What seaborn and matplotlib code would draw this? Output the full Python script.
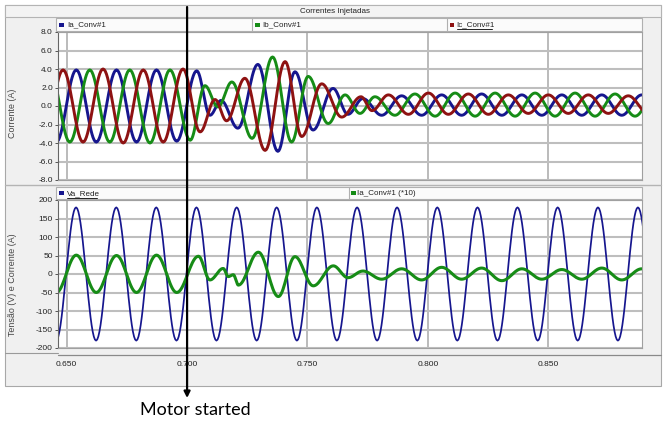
import numpy as np
import pandas as pd
import matplotlib
matplotlib.use("Agg")
import matplotlib.pyplot as plt
import seaborn as sns
from matplotlib.patches import Rectangle

sns.set_style("white")
UI = ['Liberation Sans Narrow', 'Liberation Sans', 'DejaVu Sans']
plt.rcParams['font.family'] = UI

# ---------------- data (turning points) ----------------
title_top = "Correntes Injetadas"
ylabel_top = "Corrente (A)"
ylabel_bot = "Tensão (V) e Corrente (A)"
legend_top = ["Ia_Conv#1", "Ib_Conv#1", "Ic_Conv#1"]
legend_bot = ["Va_Rede", "Ia_Conv#1 (*10)"]
x_ticks = [0.650, 0.700, 0.750, 0.800, 0.850]
x_ticklabels = ["0.650", "0.700", "0.750", "0.800", "0.850"]
y_ticks_top = [-8, -6, -4, -2, 0, 2, 4, 6, 8]
y_ticks_bot = [-200, -150, -100, -50, 0, 50, 100, 150, 200]
event_time = 0.700
event_label = "Motor started"

ia_t = [0.6457, 0.6540, 0.6623, 0.6707, 0.6790, 0.6873, 0.6957, 0.7040,
        0.7095, 0.7141, 0.7211, 0.7294, 0.7377, 0.7448, 0.7523, 0.7606,
        0.7668, 0.7730, 0.7808, 0.7891, 0.7974, 0.8057, 0.8140, 0.8223,
        0.8307, 0.8390, 0.8473, 0.8556, 0.8639, 0.8722, 0.8805, 0.8888, 0.8971]
ia_v = [-3.9, 3.9, -3.9, 3.9, -3.9, 3.9, -3.8, 3.8,
        -1.0, 0.6, -2.4, 4.5, -4.9, 3.7, -2.6, 1.9,
        -0.9, 0.8, -1.0, 1.1, -1.0, 1.2, -1.0, 1.3,
        -1.0, 1.2, -1.0, 1.2, -1.0, 1.2, -1.0, 1.2, -1.0]

ib_t = [0.6430, 0.6513, 0.6596, 0.6679, 0.6762, 0.6846, 0.6929, 0.7013,
        0.7074, 0.7128, 0.7186, 0.7270, 0.7355, 0.7434, 0.7503, 0.7586,
        0.7656, 0.7718, 0.7780, 0.7863, 0.7946, 0.8030, 0.8113, 0.8196,
        0.8279, 0.8362, 0.8445, 0.8528, 0.8611, 0.8694, 0.8777, 0.8860, 0.8943]
ib_v = [3.9, -3.9, 3.9, -3.9, 3.9, -4.0, 3.9, -3.7,
        2.2, -0.1, 2.6, -3.5, 5.3, -3.9, 3.2, -1.9,
        1.2, -0.8, 1.0, -1.0, 1.3, -1.1, 1.4, -1.1,
        1.4, -1.1, 1.4, -1.1, 1.4, -1.1, 1.3, -1.1, 1.3]

ic_t = [0.6402, 0.6485, 0.6568, 0.6651, 0.6735, 0.6818, 0.6901, 0.6983,
        0.7054, 0.7116, 0.7164, 0.7240, 0.7324, 0.7407, 0.7476, 0.7559,
        0.7642, 0.7722, 0.7768, 0.7836, 0.7919, 0.8002, 0.8085, 0.8168,
        0.8251, 0.8334, 0.8417, 0.8500, 0.8583, 0.8666, 0.8749, 0.8832, 0.8915]
ic_v = [-3.9, 3.9, -3.9, 4.0, -4.0, 3.9, -3.9, 4.0,
        -2.8, 0.7, -1.6, 3.0, -4.8, 4.8, -3.3, 2.4,
        -1.2, 1.0, -0.5, 1.2, -0.9, 1.4, -0.9, 1.3,
        -0.9, 1.2, -0.8, 1.2, -0.8, 1.2, -0.8, 1.1, -0.8]

va_t = [0.6456, 0.6539, 0.6622, 0.6706, 0.6789, 0.6872, 0.6956, 0.7039,
        0.7122, 0.7206, 0.7289, 0.7372, 0.7456, 0.7539, 0.7622, 0.7706,
        0.7789, 0.7872, 0.7956, 0.8039, 0.8122, 0.8206, 0.8289, 0.8372,
        0.8456, 0.8539, 0.8622, 0.8706, 0.8789, 0.8872, 0.8956]
va_v = [-180, 180, -180, 180, -180, 180, -180, 180,
        -180, 180, -180, 180, -180, 180, -180, 180,
        -180, 180, -180, 180, -180, 180, -180, 180,
        -180, 180, -180, 180, -180, 180, -180]

ia10_t = [0.6457, 0.6540, 0.6623, 0.6707, 0.6790, 0.6873, 0.6957, 0.7047,
          0.7095, 0.7150, 0.7171, 0.7192, 0.7213, 0.7296, 0.7379, 0.7448, 0.7524, 0.7607,
          0.7668, 0.7730, 0.7808, 0.7891, 0.7974, 0.8057, 0.8140, 0.8223,
          0.8307, 0.8390, 0.8473, 0.8556, 0.8639, 0.8722, 0.8805, 0.8888, 0.8971]
ia10_v = [-50, 51, -50, 50, -50, 51, -50, 48,
          -16, 15, -7, -2, -30, 59, -61, 47, -32, 22,
          -10, 8, -14, 14, -16, 18, -14, 16,
          -18, 14, -14, 12, -14, 16, -16, 14, -12]

BLUE, GREEN, RED = '#16168e', '#168c16', '#8e1212'

# ---------------- helpers ----------------
W, H = 664, 421
FS = 5.8


def rect(x0, y0, x1, y1):
    return [x0 / W, 1 - y1 / H, (x1 - x0) / W, (y1 - y0) / H]


def trace(times, vals, name, n=18):
    """Half-cosine segments between consecutive read turning points."""
    t = np.asarray(times, float)
    v = np.asarray(vals, float)
    s = np.linspace(0, 1, n, endpoint=False)
    w = (1 - np.cos(np.pi * s)) / 2
    tt = (t[:-1, None] + (t[1:] - t[:-1])[:, None] * s).ravel()
    vv = (v[:-1, None] + (v[1:] - v[:-1])[:, None] * w).ravel()
    tt = np.append(tt, t[-1]); vv = np.append(vv, v[-1])
    return pd.DataFrame({"t": tt, "v": vv, "s": name})


fig = plt.figure(figsize=(W / 100, H / 100), dpi=100)
fig.patch.set_facecolor('white')

# background / frame axes
bg = fig.add_axes([0, 0, 1, 1], zorder=-10)
bg.set_xlim(0, W); bg.set_ylim(H, 0); bg.axis('off')
bg.add_patch(Rectangle((5, 5), 656, 381, fc='#f0f0f0', ec='#a8a8a8', lw=0.8))
bg.add_patch(Rectangle((5, 5), 656, 12, fc='#f3f3f3', ec='#b4b4b4', lw=0.8))
bg.text(335, 11.2, title_top, ha='center', va='center', fontsize=FS, color='#222222')
# top legend bar
bg.add_patch(Rectangle((56, 18), 586, 13, fc='#fbfbfb', ec='#b0b0b0', lw=0.8))
for xs in (251.7, 446.7):
    bg.plot([xs, xs], [18, 31], color='#b0b0b0', lw=0.8)
for (mx, tx, lab, col) in [(59, 67.5, legend_top[0], BLUE), (255, 262.5, legend_top[1], GREEN),
                           (449.5, 456.5, legend_top[2], RED)]:
    bg.add_patch(Rectangle((mx, 22.5), 4.5, 4, fc=col, ec='none'))
    bg.text(tx, 24.8, lab, ha='left', va='center', fontsize=FS, color='#222222')
bg.plot([456.5, 491.5], [29.3, 29.3], color='#222222', lw=0.7)
# separator between panels
bg.plot([5, 661], [184.5, 184.5], color='#b4b4b4', lw=1.0)
# bottom legend bar
bg.add_patch(Rectangle((56, 187), 586, 12, fc='#fbfbfb', ec='#b0b0b0', lw=0.8))
bg.plot([349, 349], [187, 199], color='#b0b0b0', lw=0.8)
for (mx, tx, lab, col) in [(59, 66.5, legend_bot[0], BLUE), (351, 357, legend_bot[1], GREEN)]:
    bg.add_patch(Rectangle((mx, 191), 4.5, 4, fc=col, ec='none'))
    bg.text(tx, 193.3, lab, ha='left', va='center', fontsize=FS, color='#222222')
bg.plot([66.5, 97], [197.6, 197.6], color='#222222', lw=0.7)
# x axis line
bg.plot([5, 58], [352.5, 352.5], color='#9a9a9a', lw=0.8)
bg.plot([58, 661], [354.5, 354.5], color='#8a8a8a', lw=0.9)
# y labels
bg.text(12.5, 113, ylabel_top, rotation=90, ha='center', va='center', fontsize=6.4, color='#444444')
bg.text(12.5, 285, ylabel_bot, rotation=90, ha='center', va='center', fontsize=6.4, color='#444444')

XLIM = (0.6464, 0.8889)


def style_axes(ax, yl, yt, fmt):
    ax.set_facecolor('white')
    ax.set_xlim(*XLIM); ax.set_ylim(*yl)
    ax.set_yticks(yt)
    ax.set_yticklabels([fmt(v) for v in yt])
    ax.set_xticks(x_ticks)
    ax.grid(True, axis='y', color='#bebebe', lw=1.5, zorder=0)
    ax.grid(True, axis='x', color='#a8a8a8', lw=1.1, zorder=0)
    ax.tick_params(axis='y', length=2.5, width=0.7, color='#555555', pad=1.2,
                   labelsize=6.0, labelcolor='#222222', left=True)
    for k, sp in ax.spines.items():
        sp.set_color('#a0a0a0'); sp.set_linewidth(0.8)
    ax.spines['left'].set_color('#666666')
    ax.set_xlabel(''); ax.set_ylabel('')


# top panel
ax1 = fig.add_axes(rect(58, 32, 642, 180))
for tms, vls, nm, col in [(ia_t, ia_v, 'Ia', BLUE), (ib_t, ib_v, 'Ib', GREEN), (ic_t, ic_v, 'Ic', RED)]:
    sns.lineplot(data=trace(tms, vls, nm), x='t', y='v', color=col, lw=2.1,
                 estimator=None, sort=False, ax=ax1, legend=False)
style_axes(ax1, (-8, 8), y_ticks_top, lambda v: f"{v:.1f}")
ax1.tick_params(axis='x', length=0, labelbottom=False)

# bottom panel
ax2 = fig.add_axes(rect(58, 200, 642, 348))
sns.lineplot(data=trace(va_t, va_v, 'Va'), x='t', y='v', color=BLUE, lw=1.25,
             estimator=None, sort=False, ax=ax2, legend=False)
sns.lineplot(data=trace(ia10_t, ia10_v, 'Ia10'), x='t', y='v', color=GREEN, lw=2.2,
             estimator=None, sort=False, ax=ax2, legend=False)
style_axes(ax2, (-200, 200), y_ticks_bot, lambda v: f"{v:d}")
ax2.set_xticklabels(x_ticklabels)
ax2.tick_params(axis='x', length=0, pad=9.4, labelsize=6.0, labelcolor='#222222')

# foreground: event arrow and label
fg = fig.add_axes([0, 0, 1, 1], zorder=10)
fg.set_xlim(0, W); fg.set_ylim(H, 0); fg.axis('off'); fg.patch.set_alpha(0)
xe = 58 + (event_time - XLIM[0]) / (XLIM[1] - XLIM[0]) * 584
fg.annotate('', xy=(xe, 398), xytext=(xe, 7),
            arrowprops=dict(arrowstyle='-|>', color='black', lw=1.6, mutation_scale=9,
                            shrinkA=0, shrinkB=0))
fg.text(195, 410, event_label, ha='center', va='center', fontsize=13,
        family=['Lato', 'DejaVu Sans'], color='black')

fig.savefig('out.png', dpi=100)
